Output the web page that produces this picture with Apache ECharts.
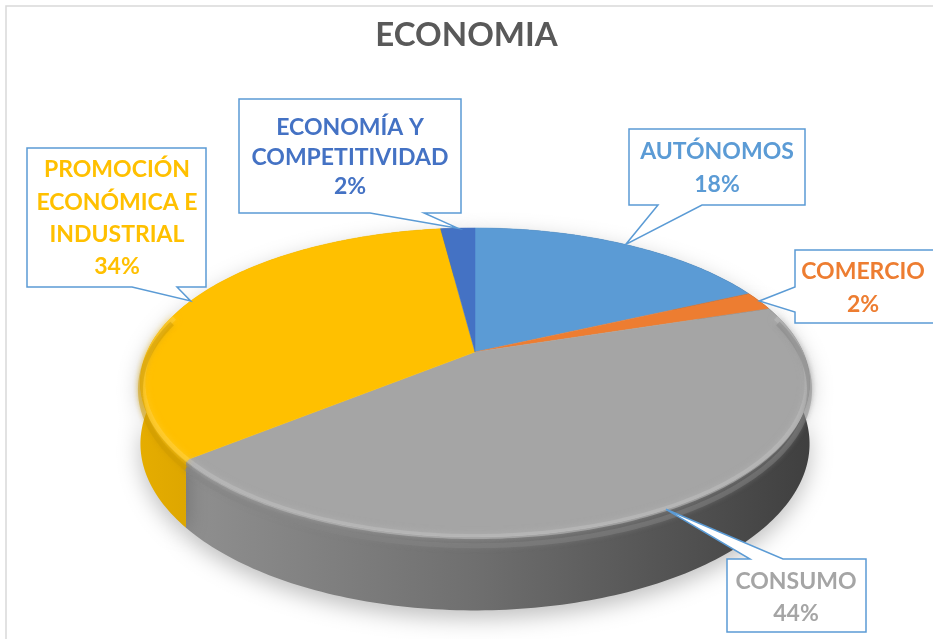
<!DOCTYPE html>
<html><head><meta charset="utf-8">
<script src="https://cdn.jsdelivr.net/npm/echarts@6/dist/echarts.min.js"></script>
<style>html,body{margin:0;padding:0;background:#fff}#c{width:933px;height:639px}</style>
</head><body><div id="c"></div>
<script>
// ---- data ----
const chartTitle = 'ECONOMIA';
const categories = ['AUTÓNOMOS', 'COMERCIO', 'CONSUMO', 'PROMOCIÓN ECONÓMICA E INDUSTRIAL', 'ECONOMÍA Y COMPETITIVIDAD'];
const values = [18, 2, 44, 34, 2];
const labelLines = [['AUTÓNOMOS'], ['COMERCIO'], ['CONSUMO'], ['PROMOCIÓN', 'ECONÓMICA E', 'INDUSTRIAL'], ['ECONOMÍA Y', 'COMPETITIVIDAD']];
const colors = ['#5b9bd5', '#ed7d31', '#a5a5a5', '#ffc000', '#4472c4'];

// ---- layout (not data) ----
const PIE = { cx: 475, cy: 352, R: 328, a: 148.5, k: 0.197, H: 59 };
const callouts = [
  { box: [629, 129, 805, 205], edge: 'bottom', base: [658, 702], text: [717, 152], lh: 33 },
  { box: [795, 250, 945, 323], edge: 'left', base: [287, 312], text: [863, 272], lh: 33 },
  { box: [727, 559, 866, 632], edge: 'top', base: [750, 783], text: [796, 582], lh: 32 },
  { box: [27, 148, 206, 287], edge: 'bottom', base: [132, 177], text: [117, 170], lh: 32.3 },
  { box: [239, 99, 461, 213], edge: 'bottom', base: [370, 424], text: [350, 128], lh: 29.5 }
];
const FONT = 'Lato, "Open Sans", sans-serif';

const total = values.reduce((s, v) => s + v, 0);
const starts = [];
values.reduce((acc, v, i) => { starts[i] = acc / total * Math.PI * 2; return acc + v; }, 0);

function proj(t, drop, f) {
  f = f == null ? 1 : f;
  const X = Math.sin(t) * f, Z = Math.cos(t) * f;
  const s = 1 / (1 + PIE.k * Z);
  return [PIE.cx + PIE.R * X * s, PIE.cy - PIE.a * Z * s + drop * s];
}
function hexRgb(h) { h = h.replace('#', ''); return [0, 2, 4].map(i => parseInt(h.substr(i, 2), 16)); }
function mix(h, target, t) {
  const c = hexRgb(h);
  const r = c.map((v, i) => Math.round(v + (target[i] - v) * t));
  return 'rgb(' + r.join(',') + ')';
}
function arcPts(t0, t1, drop, f) {
  const pts = [];
  const n = Math.max(2, Math.ceil((t1 - t0) / (Math.PI / 180)));
  for (let j = 0; j <= n; j++) pts.push(proj(t0 + (t1 - t0) * j / n, drop, f));
  return pts;
}

function renderItem(params, api) {
  const i = params.dataIndex;
  const v = api.value(0);
  const t0 = starts[i], t1 = t0 + v / total * Math.PI * 2;
  const col = colors[i];
  const children = [];
  // side band
  const top = arcPts(t0, t1, 0);
  const bot = arcPts(t0, t1, PIE.H).reverse();
  const xl = PIE.cx - PIE.R * 1.03, xr = PIE.cx + PIE.R * 1.03;
  children.push({
    type: 'polygon', z2: 1,
    shape: { points: top.concat(bot) },
    style: {
      fill: new echarts.graphic.LinearGradient(xl, 0, xr, 0, [
        { offset: 0, color: mix(col, [0, 0, 0], 0.1) },
        { offset: 0.5, color: mix(col, [0, 0, 0], 0.33) },
        { offset: 1, color: mix(col, [0, 0, 0], 0.62) }
      ], true),
      shadowBlur: 22, shadowColor: 'rgba(0,0,0,0.25)', shadowOffsetY: 8
    }
  });
  // top face
  children.push({
    type: 'polygon', z2: 5,
    shape: { points: [[PIE.cx, PIE.cy]].concat(top) },
    style: { fill: col, stroke: col, lineWidth: 0.5 }
  });
  // soft bevel on front part
  const fa = Math.max(t0, Math.PI * 0.42), fb = Math.min(t1, Math.PI * 1.58);
  if (fb > fa) {
    children.push({
      type: 'polyline', z2: 6,
      shape: { points: arcPts(fa, fb, 1, 0.993) },
      style: { stroke: mix(col, [255, 255, 255], 0.25), lineWidth: 5, fill: null, opacity: 0.6, shadowBlur: 6, shadowColor: mix(col, [255, 255, 255], 0.2) }
    });
    children.push({
      type: 'polyline', z2: 6,
      shape: { points: arcPts(fa, fb, 7, 1.0) },
      style: { stroke: mix(col, [0, 0, 0], 0.2), lineWidth: 5, fill: null, opacity: 0.45, shadowBlur: 5, shadowColor: mix(col, [0, 0, 0], 0.2) }
    });
  }
  // callout
  const c = callouts[i];
  const tip = proj((t0 + t1) / 2, 0);
  const [x0, y0, x1, y1] = c.box;
  const [b0, b1] = c.base;
  const pts = [[x0, y0]];
  if (c.edge === 'top') pts.push([b0, y0], tip, [b1, y0]);
  pts.push([x1, y0]);
  if (c.edge === 'right') pts.push([x1, b0], tip, [x1, b1]);
  pts.push([x1, y1]);
  if (c.edge === 'bottom') pts.push([b1, y1], tip, [b0, y1]);
  pts.push([x0, y1]);
  if (c.edge === 'left') pts.push([x0, b1], tip, [x0, b0]);
  children.push({
    type: 'polygon', z2: 10,
    shape: { points: pts },
    style: { fill: '#ffffff', stroke: '#5b9bd5', lineWidth: 1.5 }
  });
  const lines = labelLines[i].concat([Math.round(v / total * 100) + '%']);
  lines.forEach((ln, j) => {
    children.push({
      type: 'text', z2: 11,
      style: {
        text: ln, x: c.text[0], y: c.text[1] + j * c.lh,
        align: 'center', verticalAlign: 'middle',
        fill: col, fontSize: 23, fontWeight: 'bold', fontFamily: FONT
      }
    });
  });
  return { type: 'group', children: children };
}

const chart = echarts.init(document.getElementById('c'), null, { renderer: 'canvas' });
chart.setOption({
  backgroundColor: '#ffffff',
  animation: false,
  title: {
    text: chartTitle, left: 'center', top: 14,
    textStyle: { fontSize: 33, fontWeight: 'bold', color: '#595959', fontFamily: FONT }
  },
  graphic: [{
    type: 'rect', shape: { x: 6, y: 6, width: 960, height: 660 },
    style: { fill: null, stroke: '#d9d9d9', lineWidth: 1.5 }, silent: true
  }],
  series: [{
    type: 'custom',
    coordinateSystem: 'none',
    name: chartTitle,
    data: values.map((v, i) => ({ name: categories[i], value: [v] })),
    renderItem: renderItem
  }]
});
</script></body></html>
